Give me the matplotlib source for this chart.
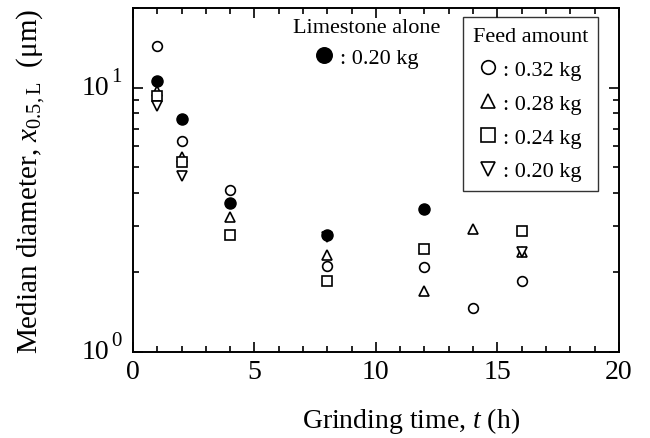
import matplotlib
matplotlib.use("Agg")
import matplotlib.pyplot as plt
from matplotlib.ticker import LogLocator, NullFormatter, MultipleLocator

# grinding time (h) and median diameter (um)
t_032 = [1, 2, 4, 8, 12, 14, 16]
d_032 = [14.4, 6.3, 4.09, 2.12, 2.09, 1.47, 1.86]

t_028 = [1, 2, 4, 8, 12, 14, 16]
d_028 = [9.7, 5.44, 3.23, 2.32, 1.70, 2.91, 2.39]

t_024 = [1, 2, 4, 8, 12, 16]
d_024 = [9.27, 5.21, 2.76, 1.86, 2.45, 2.87]

t_020 = [1, 2, 8, 16]
d_020 = [8.5, 4.61, 2.72, 2.39]

t_lime = [1, 2, 4, 8, 12]
d_lime = [10.6, 7.6, 3.65, 2.78, 3.46]

feed_labels = [': 0.32 kg', ': 0.28 kg', ': 0.24 kg', ': 0.20 kg']
lime_label = ': 0.20 kg'

# y tick labels drawn as "10" + big superscript, like the original
ytick_vals = [1, 10]
ytick_exps = ['0', '1']

plt.rcParams['font.family'] = ['Liberation Serif', 'DejaVu Serif']
plt.rcParams['mathtext.fontset'] = 'custom'
plt.rcParams['mathtext.rm'] = 'Liberation Serif'
plt.rcParams['mathtext.it'] = 'Liberation Serif:italic'

fig = plt.figure(figsize=(6.5, 4.39), dpi=100)
ax = fig.add_axes([0.2046, 0.196, 0.7474, 0.7835])

mk = dict(linestyle='none', markerfacecolor='white', markeredgecolor='black',
          markeredgewidth=1.2, markersize=7)
h1, = ax.plot(t_032, d_032, marker='o', label=feed_labels[0], **mk)
h2, = ax.plot(t_028, d_028, marker='^', label=feed_labels[1], **mk)
h3, = ax.plot(t_024, d_024, marker='s', label=feed_labels[2], **mk)
h4, = ax.plot(t_020, d_020, marker='v', label=feed_labels[3], **mk)
h5, = ax.plot(t_lime, d_lime, marker='o', linestyle='none', color='black',
              markersize=8, label=lime_label)

ax.set_yscale('log')
ax.set_xlim(0, 20)
ax.set_ylim(1, 20)
ax.xaxis.set_major_locator(MultipleLocator(5))
ax.xaxis.set_minor_locator(MultipleLocator(1))
ax.set_yticks(ytick_vals)
ax.set_yticklabels(['' for v in ytick_vals])
ax.yaxis.set_minor_locator(LogLocator(base=10, subs=range(2, 10)))
ax.yaxis.set_minor_formatter(NullFormatter())
ax.tick_params(which='both', direction='in', top=True, right=True, width=1.2)
ax.tick_params(which='major', length=7, labelsize=20, pad=5)
ax.tick_params(which='minor', length=4)
for s in ax.spines.values():
    s.set_linewidth(1.4)

for v, e in zip(ytick_vals, ytick_exps):
    ax.annotate('10', xy=(0, v), xycoords=('axes fraction', 'data'),
                xytext=(-17, 0), textcoords='offset points',
                ha='right', va='center', fontsize=20)
    ax.annotate(e, xy=(0, v), xycoords=('axes fraction', 'data'),
                xytext=(-15.5, 8), textcoords='offset points',
                ha='left', va='center', fontsize=15)

ax.set_xlabel('Grinding time, $t$ (h)', fontsize=20)
ax.xaxis.set_label_coords(0.572, -0.155)
ax.set_ylabel(r'Median diameter, $x_{\mathrm{0.5,L}}$  ($\mathrm{\mu}$m)',
              fontsize=21, labelpad=57)

leg1 = ax.legend(handles=[h1, h2, h3, h4], title='Feed amount', loc='upper right',
                 bbox_to_anchor=(0.957, 0.974), borderaxespad=0, fontsize=16,
                 title_fontsize=16, frameon=True, fancybox=False,
                 edgecolor='black', markerscale=1.4, handlelength=0.8,
                 handletextpad=0.3, labelspacing=0.6, borderpad=0.45)
leg1.get_frame().set_linewidth(1.0)
ax.add_artist(leg1)

leg2 = ax.legend(handles=[h5], title='Limestone alone', loc='upper left',
                 bbox_to_anchor=(0.32, 0.985), borderaxespad=0, fontsize=16,
                 title_fontsize=16, frameon=False, markerscale=1.4,
                 handlelength=0.8, handletextpad=0.3, borderpad=0.2)

fig.savefig('out.png', dpi=100)
